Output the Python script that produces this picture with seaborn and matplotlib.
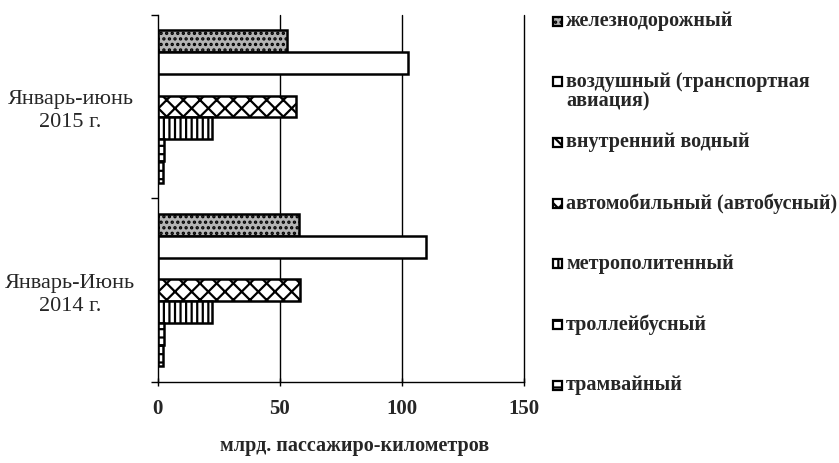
import matplotlib
matplotlib.use("Agg")
import matplotlib.pyplot as plt
import matplotlib.patches as mpatches
import seaborn as sns
import pandas as pd

periods = ["Январь-июнь\n2015 г.", "Январь-Июнь\n2014 г."]
types = ["железнодорожный", "воздушный (транспортная\nавиация)", "внутренний водный",
         "автомобильный (автобусный)", "метрополитенный", "троллейбусный", "трамвайный"]
v2015 = [52.8, 102.5, 0.3, 56.5, 22.0, 2.7, 2.2]
v2014 = [57.6, 109.6, 0.3, 58.2, 22.2, 2.6, 2.3]
xticks = [0, 50, 100, 150]
xlabel = "млрд. пассажиро-километров"

rows = []
for t, a, b in zip(types, v2015, v2014):
    rows.append({"period": periods[0], "type": t, "value": a})
    rows.append({"period": periods[1], "type": t, "value": b})
df = pd.DataFrame(rows)

sns.set_style("white")
plt.rcParams["font.family"] = ["Liberation Serif", "DejaVu Serif"]
plt.rcParams["hatch.linewidth"] = 1.6

fig = plt.figure(figsize=(8.39, 4.63), dpi=100)
ax = fig.add_axes([0.188, 0.175, 0.437, 0.793])

pal = ["#b4b4b4", "white", "white", "white", "white", "white", "white"]
sns.barplot(data=df, y="period", x="value", hue="type", hue_order=types,
            order=periods, orient="h", palette=pal, width=0.83,
            edgecolor="black", linewidth=1.8, ax=ax, legend=False)

hatches = ["...", "", "\\\\", "xx", "|||", "--", "--"]
for cont, h in zip(ax.containers, hatches):
    for bar in cont:
        bar.set_hatch(h)

ax.set_xlim(0, 150)
ax.set_ylim(1.5, -0.5)
ax.set_xticks(xticks)
ax.set_xticklabels([str(x) for x in xticks], fontsize=15, fontweight="bold")
ax.set_yticks([0, 1])
ax.set_yticklabels(periods, fontsize=16, linespacing=1.3)
ax.tick_params(axis="y", which="major", left=False, length=0)
ax.set_yticks([-0.5, 0.5, 1.5], minor=True)
ax.tick_params(axis="y", which="minor", left=True, length=5, width=1,
               color="black", direction="out")
ax.tick_params(axis="x", bottom=True, length=6, width=1, color="black",
               direction="inout", pad=9)
for lab in ax.get_yticklabels():
    lab.set_horizontalalignment("center")
    lab.set_x(-0.225)
ax.set_xlabel(xlabel, fontsize=14.5, fontweight="bold")
ax.xaxis.set_label_coords(0.537, -0.148)
ax.set_ylabel("")
for x in xticks[1:]:
    ax.axvline(x, color="black", lw=1.0, zorder=0, clip_on=False)
for s in ["top", "right"]:
    ax.spines[s].set_visible(False)
for s in ["left", "bottom"]:
    ax.spines[s].set_color("black")
    ax.spines[s].set_linewidth(1.0)

# legend drawn as evenly spaced entries
W, H = 839, 463
for i, (cont, t) in enumerate(zip(ax.containers, types)):
    yc = 21 + i * 60.7
    src = cont[0]
    rect = mpatches.Rectangle((553 / W, 1 - (yc + 4.5) / H), 9 / W, 9 / H,
                              transform=fig.transFigure, facecolor=src.get_facecolor(),
                              edgecolor="black", linewidth=1.6, hatch=src.get_hatch())
    fig.add_artist(rect)
    fig.text(566 / W, 1 - (yc - 10) / H, t, ha="left", va="top", fontsize=14.5,
             fontweight="bold", linespacing=1.0)

fig.savefig("out.png", dpi=100)
